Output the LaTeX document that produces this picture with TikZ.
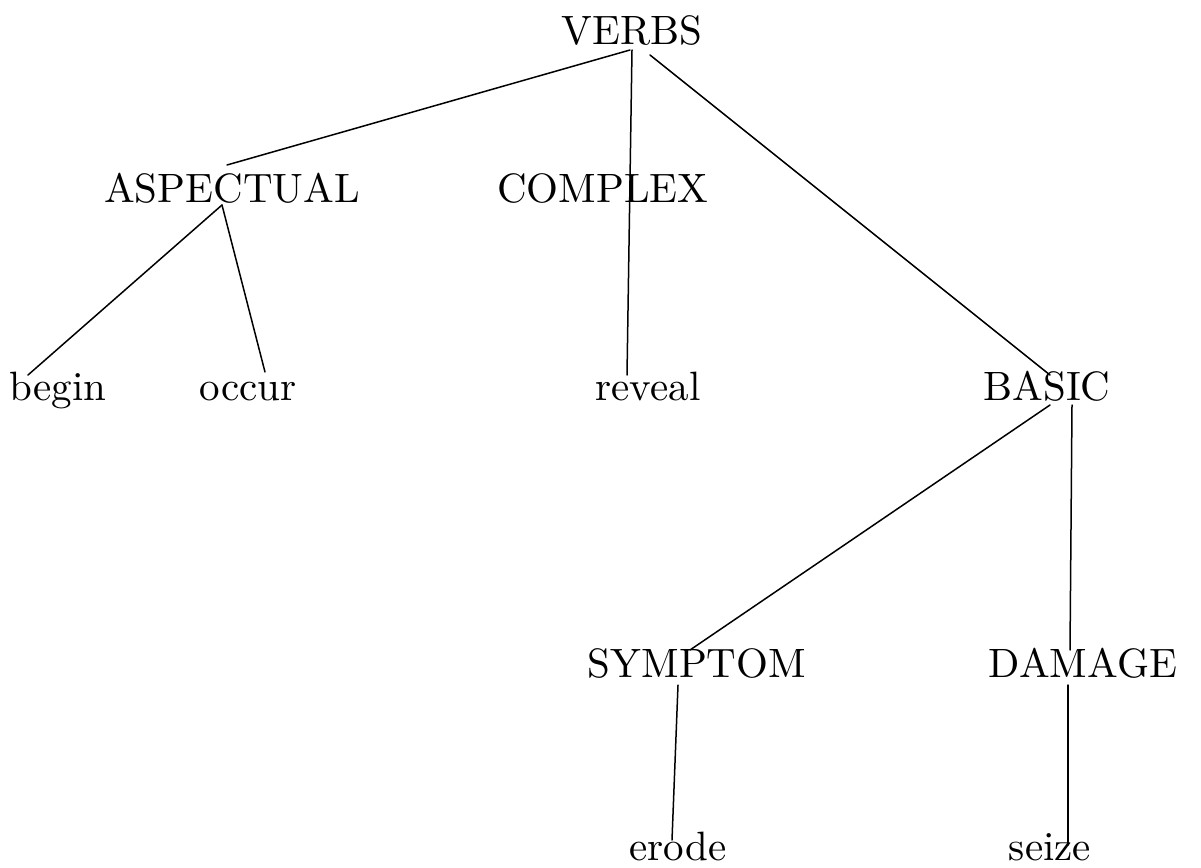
\documentclass[tikz,border=0pt]{standalone}
\usepackage{fontspec}
\setmainfont{lmroman10-regular.otf}
\begin{document}
\begin{tikzpicture}[x=1pt,y=-1pt,
  lbl/.style={anchor=base,inner sep=0pt,font=\fontsize{41}{49}\selectfont},
  edge/.style={line width=1.5pt,line cap=round}]
\useasboundingbox (0,0) rectangle (1201,867);
\node[lbl] (VERBS) at (632,45) {VERBS};
\node[lbl] (ASP) at (232,202) {ASPECTUAL};
\node[lbl] (COMPLEX) at (603,202) {COMPLEX};
\node[lbl] (begin) at (58,400) {begin};
\node[lbl] (occur) at (248,400) {occur};
\node[lbl] (reveal) at (648,400) {reveal};
\node[lbl] (BASIC) at (1047,400) {BASIC};
\node[lbl] (SYMPTOM) at (697,677) {SYMPTOM};
\node[lbl] (DAMAGE) at (1083,677) {DAMAGE};
\node[lbl] (erode) at (678,860) {erode};
\node[lbl] (seize) at (1050,860) {seize};
\draw[edge] ([shift={(-2,5)}]VERBS.base) -- ([shift={(-5,-37)}]ASP.base);
\draw[edge] ([shift={(0,5)}]VERBS.base) -- ([shift={(-21,-25)}]reveal.base);
\draw[edge] ([shift={(18,10)}]VERBS.base) -- ([shift={(3,-25)}]BASIC.base);
\draw[edge] ([shift={(-10,3)}]ASP.base) -- ([shift={(-30,-25)}]begin.base);
\draw[edge] ([shift={(-10,3)}]ASP.base) -- ([shift={(17,-28)}]occur.base);
\draw[edge] ([shift={(3,5)}]BASIC.base) -- ([shift={(-7,-27)}]SYMPTOM.base);
\draw[edge] ([shift={(25,5)}]BASIC.base) -- ([shift={(-13,-27)}]DAMAGE.base);
\draw[edge] ([shift={(-19,8)}]SYMPTOM.base) -- ([shift={(-6,-20)}]erode.base);
\draw[edge] ([shift={(-15,8)}]DAMAGE.base) -- ([shift={(18,-15)}]seize.base);
\end{tikzpicture}
\end{document}
